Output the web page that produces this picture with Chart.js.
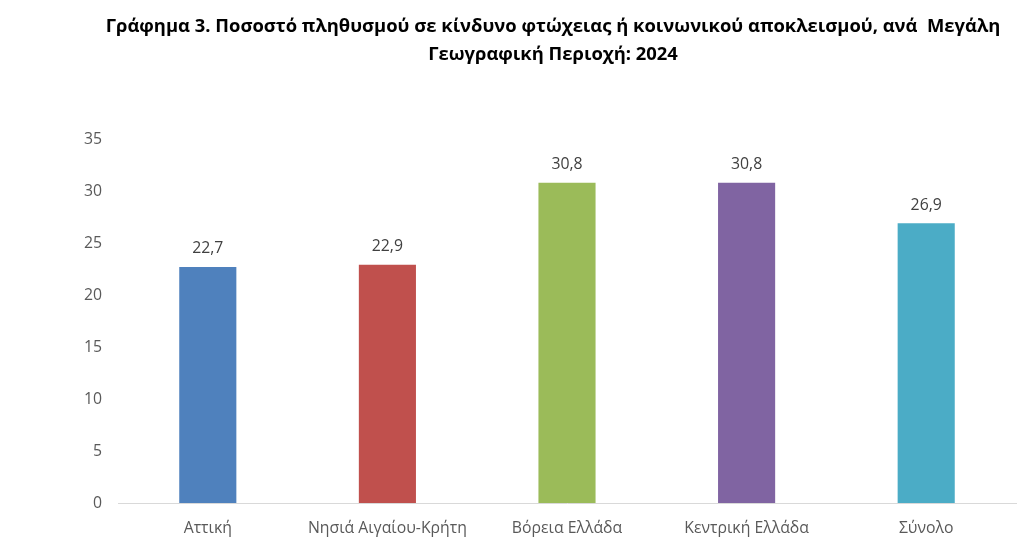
<!DOCTYPE html>
<html>
<head>
<meta charset="utf-8">
<script src="https://cdn.jsdelivr.net/npm/chart.js@4"></script>
<style>
  html, body { margin: 0; padding: 0; background: #fff; }
  #wrap { width: 1035px; height: 554px; }
</style>
</head>
<body>
<div id="wrap"><canvas id="chart"></canvas></div>
<script>
const titleLines = [
	'Γράφημα 3. Ποσοστό πληθυσμού σε κίνδυνο φτώχειας ή κοινωνικού αποκλεισμού, ανά  Μεγάλη',
	'Γεωγραφική Περιοχή: 2024'
];
const categories = ['Αττική', 'Νησιά Αιγαίου-Κρήτη', 'Βόρεια Ελλάδα', 'Κεντρική Ελλάδα', 'Σύνολο'];
const values = [22.7, 22.9, 30.8, 30.8, 26.9];
const barColors = ['#4F81BD', '#C0504D', '#9BBB59', '#8064A2', '#4BACC6'];

const FONT = "'Open Sans', sans-serif";

// title drawn by hand so it can sit off-centre like the original
const titlePlugin = {
	id: 'titleText',
	afterDraw(chart) {
		const ctx = chart.ctx;
		ctx.save();
		ctx.font = 'bold 18.4px ' + FONT;
		ctx.fillStyle = '#000';
		ctx.textAlign = 'center';
		ctx.textBaseline = 'middle';
		ctx.fillText(titleLines[0], 553, 27);
		ctx.fillText(titleLines[1], 553, 55);
		ctx.restore();
	}
};

const valueLabels = {
	id: 'valueLabels',
	afterDatasetsDraw(chart) {
		const ctx = chart.ctx;
		const meta = chart.getDatasetMeta(0);
		ctx.save();
		ctx.font = '15.8px ' + FONT;
		ctx.fillStyle = '#404040';
		ctx.textAlign = 'center';
		ctx.textBaseline = 'middle';
		meta.data.forEach((bar, i) => {
			ctx.fillText(values[i].toFixed(1).replace('.', ','), bar.x, bar.y - 18);
		});
		ctx.restore();
	}
};

new Chart(document.getElementById('chart'), {
	type: 'bar',
	data: {
		labels: categories,
		datasets: [{
			data: values,
			backgroundColor: barColors,
			categoryPercentage: 1,
			barPercentage: 0.318
		}]
	},
	options: {
		responsive: true,
		maintainAspectRatio: false,
		animation: false,
		layout: { padding: { top: 139, right: 19, bottom: 0, left: 0 } },
		plugins: {
			legend: { display: false },
			title: { display: false },
			tooltip: { enabled: false }
		},
		scales: {
			x: {
				grid: { display: false, drawTicks: false },
				border: { color: '#D9D9D9', width: 1 },
				ticks: { color: '#595959', font: { family: FONT, size: 15.8 }, padding: 16, maxRotation: 0 },
				afterFit(scale) { scale.height = 51; }
			},
			y: {
				min: 0,
				max: 35,
				ticks: { stepSize: 5, color: '#595959', font: { family: FONT, size: 15.8 }, padding: 16 },
				grid: { display: false, drawTicks: false },
				border: { display: false },
				afterFit(scale) { scale.width = 118; }
			}
		}
	},
	plugins: [titlePlugin, valueLabels]
});
</script>
</body>
</html>
